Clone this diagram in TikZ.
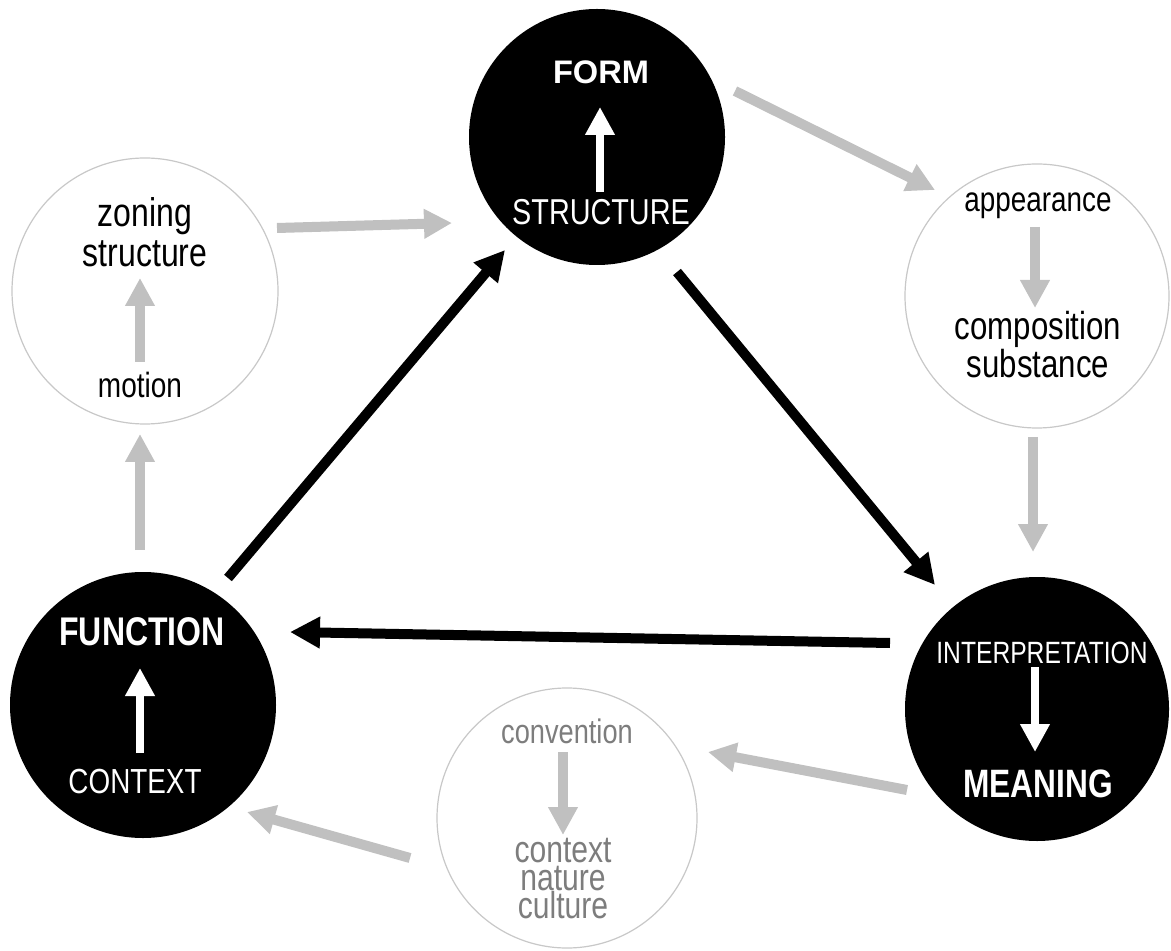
\documentclass[tikz,border=0pt]{standalone}
\usepackage{fontspec}
\setmainfont{Liberation Sans}
\newfontfamily\widefont{Liberation Sans}
\newfontfamily\narrowfont[FakeStretch=0.8]{Liberation Sans}
\usetikzlibrary{arrows.meta}
\definecolor{arrowgray}{RGB}{192,192,192}
\definecolor{ringgray}{RGB}{200,200,200}
\definecolor{softtext}{RGB}{125,125,125}

\tikzset{
  hub/.style={circle, fill=black, draw=none, inner sep=0pt},
  ring/.style={circle, fill=white, draw=ringgray, line width=0.6pt, inner sep=0pt},
  lbl/.style={anchor=base, inner sep=0pt, outer sep=0pt},
  fsize/.style={font=\narrowfont\fontsize{#1}{#1}\selectfont},
  fbold/.style={font=\narrowfont\bfseries\fontsize{#1}{#1}\selectfont},
  stack/.style 2 args={align=center, font=\narrowfont\fontsize{#1}{#2}\selectfont},
  mainarrow/.style={draw=black, line width=5pt,
    -{Triangle[length=15pt,width=15pt]}},
  sidearrow/.style={draw=arrowgray, line width=5pt,
    -{Triangle[length=14pt,width=14pt]}},
  innerarrow/.style={draw=white, line width=4pt,
    -{Triangle[length=14pt,width=14pt]}},
  grayinner/.style={draw=arrowgray, line width=5pt,
    -{Triangle[length=14pt,width=14pt]}}
}

\begin{document}
\begin{tikzpicture}[x=0.5pt, y=-0.5pt]
  \useasboundingbox[fill=white] (0,0) rectangle (1171,951);

  % the three main stages
  \node[hub, minimum size=128pt] (form) at (597,137) {};
  \node[hub, minimum size=133pt] (function) at (143,705) {};
  \node[hub, minimum size=132pt] (meaning) at (1037,709) {};

  % the three intermediate stages
  \node[ring, minimum size=133pt] (zoning) at (145,291) {};
  \node[ring, minimum size=132pt] (appear) at (1037,296) {};
  \node[ring, minimum size=130pt] (conv) at (567,818) {};

  % FORM
  \node[lbl, font=\widefont\bfseries\fontsize{16.3}{16.3}\selectfont, text=white] (formtxt) at (601,84) {FORM};
  \node[lbl, fsize=18, text=white] (structtxt) at (601,225) {STRUCTURE};
  \coordinate (formA) at (600,192);
  \coordinate (formB) at (600,107);
  \draw[innerarrow] (formA) -- (formB);

  % FUNCTION
  \node[lbl, fbold=20, text=white] (functxt) at (142,645) {FUNCTION};
  \node[lbl, fsize=17.4, text=white] (ctxtxt) at (135,793) {CONTEXT};
  \coordinate (funcA) at (140,753);
  \coordinate (funcB) at (140,668);
  \draw[innerarrow] (funcA) -- (funcB);

  % MEANING
  \node[lbl, fsize=15.4, text=white] (interptxt) at (1042,663) {INTERPRETATION};
  \node[lbl, fbold=19.8, text=white] (meantxt) at (1038,797) {MEANING};
  \coordinate (meanA) at (1035,667);
  \coordinate (meanB) at (1035,752);
  \draw[innerarrow] (meanA) -- (meanB);

  % zoning circle (base anchor sits on the last line)
  \node[lbl, stack={20}{20}] (zontxt) at (145,267) {zoning\\structure};
  \node[lbl, fsize=17.5] (mottxt) at (140,398) {motion};
  \coordinate (zonA) at (140,362);
  \coordinate (zonB) at (140,278);
  \draw[grayinner] (zonA) -- (zonB);

  % appearance circle
  \node[lbl, fsize=17.4] (apptxt) at (1038,212) {appearance};
  \node[lbl, stack={19.5}{16.5}] (comptxt) at (1038,378) {composition\\substance};
  \coordinate (appA) at (1035,227);
  \coordinate (appB) at (1035,308);
  \draw[grayinner] (appA) -- (appB);

  % convention circle
  \node[lbl, fsize=17, text=softtext] (convtxt) at (567,743) {convention};
  \node[lbl, stack={18.8}{14}, text=softtext] (cntxtxt) at (563,918) {context\\nature\\culture};
  \coordinate (convA) at (563,752);
  \coordinate (convB) at (563,835);
  \draw[grayinner] (convA) -- (convB);

  % main cycle connectors
  \coordinate (fu2fo-s) at (228,578);
  \coordinate (fu2fo-e) at (505,250);
  \coordinate (fo2me-s) at (677,272);
  \coordinate (fo2me-e) at (935,585);
  \coordinate (me2fu-s) at (890,643);
  \coordinate (me2fu-e) at (290,632);
  \draw[mainarrow] (fu2fo-s) -- (fu2fo-e);
  \draw[mainarrow] (fo2me-s) -- (fo2me-e);
  \draw[mainarrow] (me2fu-s) -- (me2fu-e);

  % outer cycle connectors
  \coordinate (zo2fo-s) at (277,228);
  \coordinate (zo2fo-e) at (452,223);
  \coordinate (fo2ap-s) at (735,91);
  \coordinate (fo2ap-e) at (935,190);
  \coordinate (ap2me-s) at (1033,437);
  \coordinate (ap2me-e) at (1033,552);
  \coordinate (me2co-s) at (907,790);
  \coordinate (me2co-e) at (708,752);
  \coordinate (co2fu-s) at (410,858);
  \coordinate (co2fu-e) at (247,812);
  \coordinate (fu2zo-s) at (140,550);
  \coordinate (fu2zo-e) at (140,434);
  \draw[sidearrow] (zo2fo-s) -- (zo2fo-e);
  \draw[sidearrow] (fo2ap-s) -- (fo2ap-e);
  \draw[sidearrow] (ap2me-s) -- (ap2me-e);
  \draw[sidearrow] (me2co-s) -- (me2co-e);
  \draw[sidearrow] (co2fu-s) -- (co2fu-e);
  \draw[sidearrow] (fu2zo-s) -- (fu2zo-e);
\end{tikzpicture}
\end{document}
